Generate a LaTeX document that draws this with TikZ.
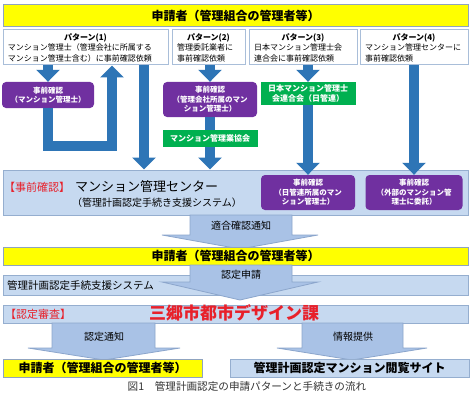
\documentclass[tikz,border=0pt]{standalone}
\usepackage{fontspec}
\setmainfont{Noto Sans CJK JP}
\usetikzlibrary{arrows.meta}
\definecolor{yel}{HTML}{FFFF00}
\definecolor{ybord}{HTML}{8FA3BF}
\definecolor{lblue}{HTML}{C6D9F0}
\definecolor{lbord}{HTML}{95AECF}
\definecolor{pborder}{HTML}{A9BED9}
\definecolor{purp}{HTML}{7030A0}
\definecolor{greenbox}{HTML}{00B050}
\definecolor{flowblue}{HTML}{2E75B6}
\definecolor{ablue}{HTML}{A9C2E6}
\definecolor{abord}{HTML}{8CA6CC}
\definecolor{redtext}{HTML}{E8202A}
\definecolor{captxt}{HTML}{333333}
\tikzset{
  pbox/.style={draw=pborder, line width=1pt, fill=white, inner xsep=5pt, inner ysep=0pt,
    minimum height=35pt, align=left, font=\fontsize{8}{10.5}\selectfont},
  purbox/.style={fill=purp, rounded corners=4pt, text=white, align=center, inner sep=0pt,
    font=\bfseries\fontsize{7.5}{9.5}\selectfont},
  grnbox/.style={fill=greenbox, text=white, align=center, inner sep=0pt,
    font=\bfseries\fontsize{8}{10}\selectfont},
  ybar/.style={draw=ybord, line width=1pt, fill=yel, inner sep=0pt},
  lbar/.style={draw=lbord, line width=1pt, fill=lblue, inner sep=0pt},
  flow/.style={draw=flowblue, line width=10pt, line join=miter,
    -{Triangle[width=23pt,length=12pt]}},
  flowplain/.style={draw=flowblue, line width=10pt},
  blk/.style={fill=ablue, draw=abord, line width=0.8pt, line join=miter},
  lbl/.style={inner sep=0pt},
}
\newcommand{\ptitle}[1]{\makebox[\linewidth]{\bfseries #1}\\}
\begin{document}
\begin{tikzpicture}[x=1pt,y=-1pt]
\useasboundingbox[fill=white] (0,0) rectangle (474,404);

% top applicant bar
\node[ybar, minimum width=465pt, minimum height=22pt, font=\bfseries\fontsize{12}{12}\selectfont] (top) at (235.5,16) {申請者（管理組合の管理者等）};

% pattern boxes
\node[pbox, text width=155pt] (p1) at (85.5,47.5) {\ptitle{パターン(1)}マンション管理士（管理会社に所属する\\マンション管理士含む）に事前確認依頼};
\node[pbox, text width=63pt] (p2) at (208.5,47.5) {\ptitle{パターン(2)}管理委託業者に\\事前確認依頼};
\node[pbox, text width=98pt] (p3) at (303,47.5) {\ptitle{パターン(3)}日本マンション管理士会\\連合会に事前確認依頼};
\node[pbox, text width=98pt] (p4) at (414,47.5) {\ptitle{パターン(4)}マンション管理センターに\\事前確認依頼};

% center box
\node[lbar, minimum width=465pt, minimum height=45pt] (cb) at (235.5,192.5) {};
\node[lbl, anchor=west, text=redtext, font=\fontsize{11}{11}\selectfont] (cbl) at (4,187) {【事前確認】};
\node[lbl, anchor=west, font=\fontsize{13}{13}\selectfont] (cbt) at (75,187) {マンション管理センター};
\node[lbl, anchor=west, font=\fontsize{10}{10}\selectfont] (cbs) at (72,203) {（管理計画認定手続き支援システム）};

% purple and green boxes
\node[purbox, minimum width=92pt, minimum height=26pt] (pu1) at (48,95) {事前確認\\（マンション管理士）};
\node[purbox, minimum width=94pt, minimum height=35pt] (pu2) at (210,99.5) {事前確認\\（管理会社所属のマン\\ション管理士）};
\node[grnbox, minimum width=95pt, minimum height=17pt] (g2) at (210,138.5) {マンション管理業協会};
\node[grnbox, minimum width=95pt, minimum height=23pt] (g1) at (308,93.5) {日本マンション管理士\\会連合会（日管連）};
\node[purbox, minimum width=94pt, minimum height=35pt] (pu3) at (308,192.5) {事前確認\\（日管連所属のマン\\ション管理士）};
\node[purbox, minimum width=97pt, minimum height=35pt] (pu4) at (414,192.5) {事前確認\\（外部のマンション管\\理士に委託）};

% flow arrows
\coordinate (ub) at (112,146);
\coordinate (a3x) at (144,0);
\draw[flow] (pu1.north |- p1.south) -- (pu1.north);
\draw[flow] (pu1.south) -- (pu1.south |- ub) -- (ub) -- (ub |- p1.south);
\draw[flow] (a3x |- p1.south) -- (a3x |- cb.north);
\draw[flow] (pu2.north |- p2.south) -- (pu2.north);
\draw[flowplain] (pu2.south) -- (g2.north);
\draw[flow] (g2.south) -- (g2.south |- cb.north);
\draw[flow] (g1.north |- p3.south) -- (g1.north);
\draw[flow] (g1.south) -- (pu3.north);
\draw[flow] (pu4.north |- p4.south) -- (pu4.north);

% block arrow: conformity notice
\path[blk] (190,215) -- (292,215) -- (292,235) -- (318,235) -- (240,249) -- (162,235) -- (190,235) -- cycle;
\node[lbl, font=\fontsize{10}{10}\selectfont] (n1) at (241,226) {適合確認通知};

% second applicant bar
\node[ybar, minimum width=465pt, minimum height=18pt, font=\bfseries\fontsize{12}{12}\selectfont] (ap2) at (235.5,256) {申請者（管理組合の管理者等）};

% system bar
\node[lbar, minimum width=465pt, minimum height=20pt] (sys) at (235.5,285) {};
\node[lbl, anchor=west, font=\fontsize{10.5}{10.5}\selectfont] (syst) at (7,286) {管理計画認定手続支援システム};

% block arrow: application
\path[blk] (190,265) -- (292,265) -- (292,282) -- (318,282) -- (240,300) -- (162,282) -- (190,282) -- cycle;
\node[lbl, font=\fontsize{10}{10}\selectfont] (n2) at (241,275) {認定申請};

% review bar
\node[lbar, minimum width=465pt, minimum height=18pt] (rv) at (235.5,314) {};
\node[lbl, anchor=west, text=redtext, font=\fontsize{11}{11}\selectfont] (rvl) at (5,314) {【認定審査】};
\node[lbl, text=redtext, font=\bfseries\fontsize{17}{17}\selectfont] (rvt) at (234,313) {三郷市都市デザイン課};

% block arrows: notice and information
\path[blk] (52,323) -- (155,323) -- (155,348) -- (180,348) -- (104,360) -- (28,348) -- (52,348) -- cycle;
\node[lbl, font=\fontsize{10}{10}\selectfont] (n3) at (104,337) {認定通知};
\path[blk] (302,323) -- (403,323) -- (403,348) -- (427,348) -- (352,360) -- (277,348) -- (302,348) -- cycle;
\node[lbl, font=\fontsize{10}{10}\selectfont] (n4) at (353,337) {情報提供};

% bottom boxes
\node[ybar, minimum width=199pt, minimum height=18pt, font=\bfseries\fontsize{12}{12}\selectfont] (ap3) at (102.5,368) {申請者（管理組合の管理者等）};
\node[lbar, minimum width=239pt, minimum height=18pt, font=\bfseries\fontsize{12}{12}\selectfont] (site) at (349.5,368) {管理計画認定マンション閲覧サイト};

% caption
\node[lbl, text=captxt, font=\fontsize{10.6}{10.6}\selectfont] (cap) at (247,386) {図1　管理計画認定の申請パターンと手続きの流れ};
\end{tikzpicture}
\end{document}
